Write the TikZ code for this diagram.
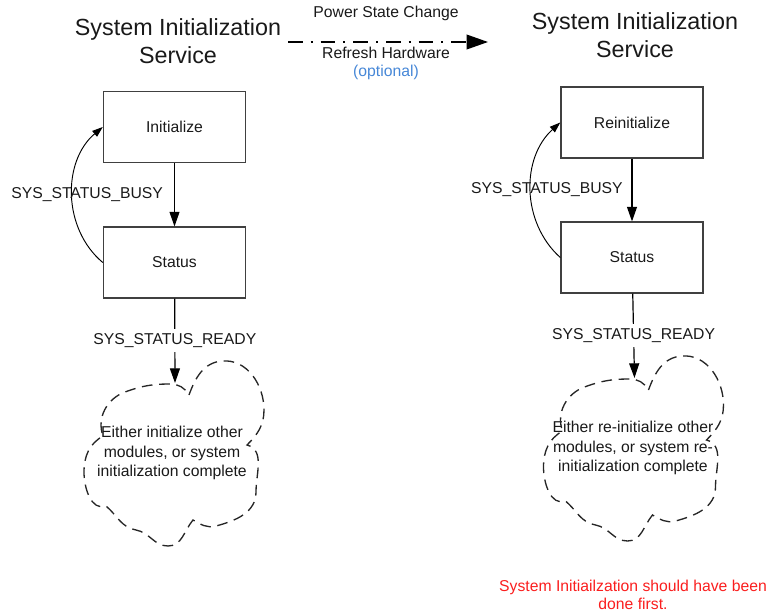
\documentclass[tikz,border=0pt]{standalone}
\usepackage{fontspec}
\setmainfont{Liberation Sans}
\usetikzlibrary{arrows.meta}
\definecolor{optblue}{RGB}{70,135,215}
\definecolor{notered}{RGB}{250,30,30}

\begin{document}
\begin{tikzpicture}[x=0.75pt,y=0.75pt,
    every node/.style={font=\fontsize{11.8}{14.6}\selectfont, text=black!90},
    tnode/.style={font=\fontsize{17.5}{21}\selectfont, align=center},
    bnode/.style={draw=black!75, line width=1.1pt, minimum width=106.5pt, minimum height=53pt},
    cpath/.style={draw=black!85, line width=1pt, dash pattern=on 8pt off 5pt},
    >={Triangle[length=11pt,width=7.5pt]}]
    \useasboundingbox (0,0) rectangle (769,-615);

    \node[tnode] (t1) at (178,-41) {System Initialization\\Service};
    \node[tnode] (t2) at (635,-35) {System Initialization\\Service};
    \coordinate (a0) at (288,-42);
    \coordinate (a1) at (488,-42);

    \node[bnode] (1) at (174.5,-127) {Initialize};
    \node[bnode] (1s) at (174.5,-262.5) {Status};
    \coordinate (1c) at (174,-454);
    \coordinate (1t) at (175,-383);
    \node[align=center] (1x) at (172,-453) {Either initialize other\\modules, or system\\initialization complete};

    \node[bnode] (2) at (632,-122.5) {Reinitialize};
    \node[bnode] (2s) at (632,-257.5) {Status};
    \coordinate (2c) at (633.5,-449);
    \coordinate (2t) at (634.5,-378);
    \node[align=center] (2x) at (633,-448) {Either re-initialize other\\modules, or system re-\\initialization complete};

    \node[align=center, text=notered, font=\fontsize{11.8}{13}\selectfont] (n) at (633,-595)
        {System Initiailzation should have been\\done first.};

    % clouds
    \foreach \c in {1c,2c} {
    \begin{scope}[shift={(\c)}]
    \draw[cpath] (15,59) to[out=70,in=185] (48,93) to[out=5,in=90] (90,44) to[out=270,in=45] (73,9)
        to[out=-15,in=90] (82,-38) to[out=270,in=15] (42,-72) to[out=195,in=-30] (19,-66)
        to[out=230,in=0] (-6,-92) to[out=180,in=-10] (-38,-76) to[out=170,in=-40] (-68,-52)
        to[out=200,in=270] (-90,-18) to[out=90,in=210] (-71,18)
        to[out=110,in=200] (-49,62) to[out=20,in=180] (-4,70) to[out=0,in=120] (15,59);
    \end{scope}
    }

    \draw[->, line width=1.1pt, >={Triangle[length=16pt,width=11pt]},
          dash pattern=on 11pt off 6pt on 1.5pt off 6pt] (a0) -- (a1)
        node [pos=0.49, above=12pt] {Power State Change}
        node [pos=0.49, below=0pt] (rh) {Refresh Hardware};
    \node[text=optblue, anchor=north, yshift=3pt] (opt) at (rh.south) {(optional)};

    \draw[->, line width=0.9pt] (1) edge (1s);
    \draw[->, line width=0.9pt] (2) edge (2s);
    \draw[->, line width=0.9pt] (1s) edge node [pos=0.5, fill=white] {SYS\_STATUS\_READY} (1t);
    \draw[->, line width=0.9pt] (2s) edge node [pos=0.5, fill=white] {SYS\_STATUS\_READY} (2t);

    \begin{scope}[line width=0.7pt, >={Triangle[length=8pt,width=5.5pt]}]
    \draw[->] (1s.west) to[out=140, in=220] node [pos=0.5, xshift=11pt] {SYS\_STATUS\_BUSY} (1.west);
    \draw[->] (2s.west) to[out=138, in=222] node [pos=0.5, xshift=12pt] {SYS\_STATUS\_BUSY} (2.west);
    \end{scope}
\end{tikzpicture}
\end{document}
